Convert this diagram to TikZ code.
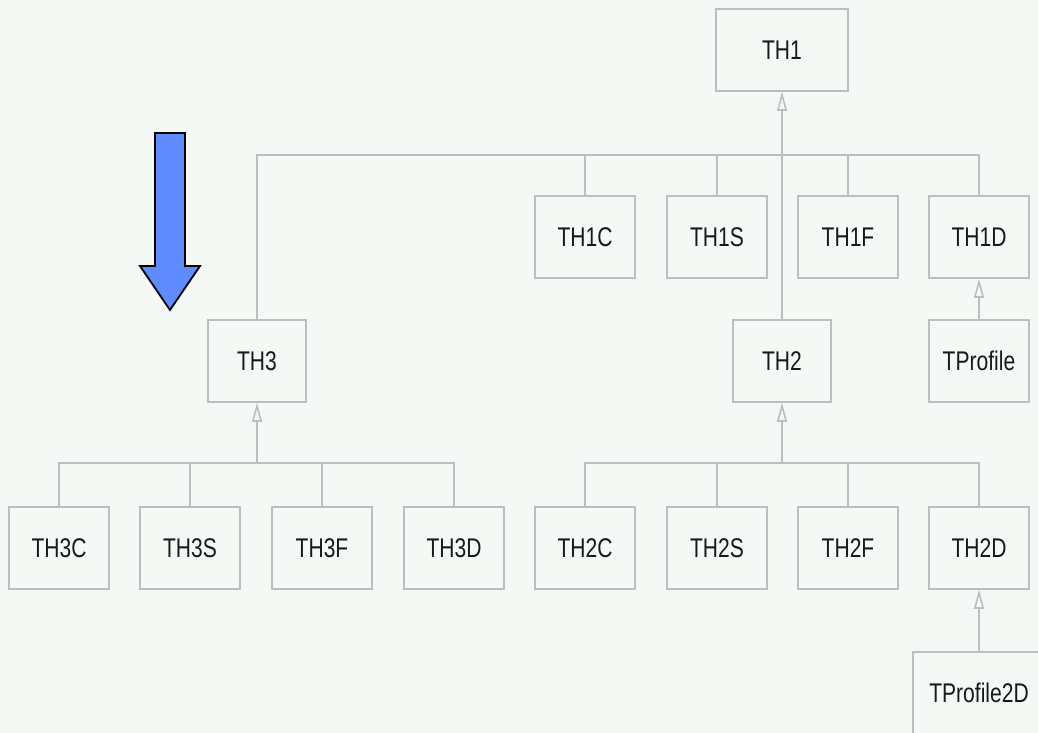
\documentclass[tikz,border=0pt]{standalone}
\usepackage{fontspec}
\setmainfont{Liberation Sans}[FakeStretch=0.78]
\usetikzlibrary{arrows.meta}
\definecolor{bg}{RGB}{245,249,246}
\definecolor{edge}{RGB}{190,190,190}
\definecolor{txt}{RGB}{25,25,25}
\definecolor{bluearrow}{RGB}{94,140,255}
\tikzset{
  cls/.style={draw=edge, line width=1.6pt, fill=bg, minimum height=82pt, minimum width=100pt, inner sep=0pt,
     font=\fontsize{27}{27}\selectfont, text=txt},
  link/.style={draw=edge, line width=1.6pt},
  inh/.style={link, -{Triangle[open, length=19pt, width=10pt, fill=bg, line width=1.6pt]}}
}
\begin{document}
\begin{tikzpicture}[x=1pt, y=-1pt]
\fill[bg] (0,0) rectangle (1038,733);
\useasboundingbox (0,0) rectangle (1038,733);
\begin{scope}
\clip (0,0) rectangle (1038,733);
% nodes
\node[cls, minimum width=132pt] (th1) at (782,50) {TH1};
\node[cls] (th1c) at (585,237) {TH1C};
\node[cls] (th1s) at (717,237) {TH1S};
\node[cls] (th1f) at (848,237) {TH1F};
\node[cls] (th1d) at (979,237) {TH1D};
\node[cls, minimum width=98pt] (th3) at (257,361) {TH3};
\node[cls, minimum width=98pt] (th2) at (782,361) {TH2};
\node[cls] (tprofile) at (979,361) {TProfile};
\node[cls] (th3c) at (59,548) {TH3C};
\node[cls] (th3s) at (190,548) {TH3S};
\node[cls] (th3f) at (322,548) {TH3F};
\node[cls] (th3d) at (454,548) {TH3D};
\node[cls] (th2c) at (585,548) {TH2C};
\node[cls] (th2s) at (717,548) {TH2S};
\node[cls] (th2f) at (848,548) {TH2F};
\node[cls] (th2d) at (979,548) {TH2D};
\node[cls, minimum width=132pt] (tprofile2d) at (979,693) {TProfile2D};
% bus coordinates
\coordinate (bus1) at (782,155);
\coordinate (bus3) at (257,463);
\coordinate (bus2) at (782,463);
% TH1 hierarchy
\draw[link] (th3.north) |- (bus1);
\draw[link] (th1d.north) |- (bus1);
\draw[link] (th1c.north) -- (th1c.north |- bus1);
\draw[link] (th1s.north) -- (th1s.north |- bus1);
\draw[link] (th1f.north) -- (th1f.north |- bus1);
\draw[inh] (th2.north) -- (th1.south);
% TH3 hierarchy
\draw[link] (th3c.north) |- (bus3);
\draw[link] (th3d.north) |- (bus3);
\draw[link] (th3s.north) -- (th3s.north |- bus3);
\draw[link] (th3f.north) -- (th3f.north |- bus3);
\draw[inh] (bus3) -- (th3.south);
% TH2 hierarchy
\draw[link] (th2c.north) |- (bus2);
\draw[link] (th2d.north) |- (bus2);
\draw[link] (th2s.north) -- (th2s.north |- bus2);
\draw[link] (th2f.north) -- (th2f.north |- bus2);
\draw[inh] (bus2) -- (th2.south);
% profiles
\draw[inh] (tprofile.north) -- (th1d.south);
\draw[inh] (tprofile2d.north) -- (th2d.south);
\end{scope}
% blue arrow
\draw[black, line width=1.8pt, fill=bluearrow, line join=miter]
  (155,133) -- (185,133) -- (185,266) -- (200,266) -- (170,310) -- (140,266) -- (155,266) -- cycle;
\end{tikzpicture}
\end{document}
